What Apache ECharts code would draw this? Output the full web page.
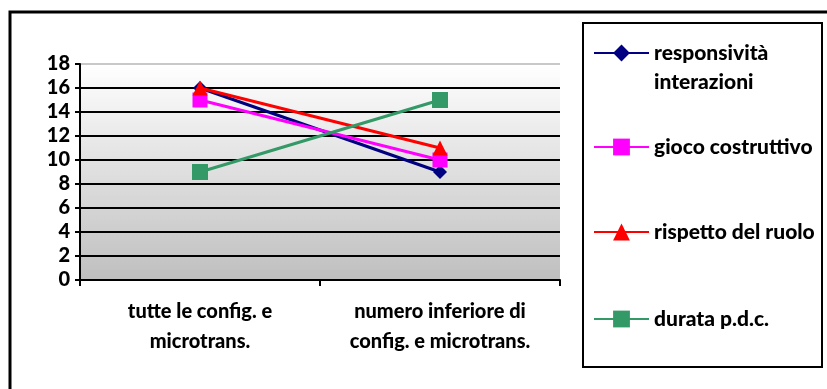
<!DOCTYPE html>
<html>
<head>
<meta charset="utf-8">
<script src="https://cdn.jsdelivr.net/npm/echarts@6/dist/echarts.min.js"></script>
<style>
  html, body { margin: 0; padding: 0; background: #fff; }
  #chart { width: 827px; height: 389px; }
</style>
</head>
<body>
<div id="chart"></div>
<script>
// Categories and values per series
const categories = ['tutte le config. e\nmicrotrans.', 'numero inferiore di\nconfig. e microtrans.'];
const seriesNames = ['responsività interazioni', 'gioco costruttivo', 'rispetto del ruolo', 'durata p.d.c.'];
const responsivita = [16, 9];
const giocoCostruttivo = [15, 10];
const rispettoRuolo = [16, 11];
const durataPdc = [9, 15];
const yTicks = [0, 2, 4, 6, 8, 10, 12, 14, 16, 18];

const FONT = 'Lato, "Open Sans", sans-serif';
const WEIGHT = 900;
const seriesStyles = [
  { color: '#000080', symbol: 'diamond', size: 14 },
  { color: '#ff00ff', symbol: 'rect', size: 15 },
  { color: '#ff0000', symbol: 'triangle', size: 15 },
  { color: '#339966', symbol: 'rect', size: 16 }
];
const seriesData = [responsivita, giocoCostruttivo, rispettoRuolo, durataPdc];

const chart = echarts.init(document.getElementById('chart'), null, { renderer: 'canvas' });

// One legend block per entry so each row sits at its own height
const legendRows = [
  { name: seriesNames[0], center: 53, twoLine: true },
  { name: seriesNames[1], center: 143 },
  { name: seriesNames[2], center: 228 },
  { name: seriesNames[3], center: 315 }
];
const LINE_H = 29;
const ITEM_H = 21;

// The wrapped entry gets an empty leading line so its first line sits beside the icon
const legends = legendRows.map(r => ({
  data: [r.name],
  left: 593,
  top: r.twoLine ? r.center - 1.5 * LINE_H : r.center - ITEM_H / 2,
  padding: 0,
  itemWidth: 55,
  itemHeight: ITEM_H,
  itemGap: 0,
  itemStyle: { borderWidth: 0 },
  lineStyle: { width: 2 },
  selectedMode: false,
  formatter: n => n === seriesNames[0] ? ' \nresponsività\ninterazioni' : n,
  textStyle: {
    fontFamily: FONT,
    fontWeight: WEIGHT,
    fontSize: 21,
    color: '#000',
    lineHeight: LINE_H
  }
}));

const splitColors = yTicks.map(v => v === 18 ? '#c8c8c8' : '#000');

chart.setOption({
  animation: false,
  backgroundColor: '#fff',
  graphic: [
    { type: 'rect', shape: { x: 10, y: 12, width: 840, height: 420 },
      style: { fill: 'none', stroke: '#000', lineWidth: 3 }, z: 100 },
    { type: 'rect', shape: { x: 583, y: 23, width: 239, height: 344 },
      style: { fill: 'none', stroke: '#000', lineWidth: 2 }, z: 100 }
  ],
  legend: legends,
  grid: {
    left: 80, right: 267, top: 64, bottom: 109,
    show: true, borderWidth: 0,
    backgroundColor: new echarts.graphic.LinearGradient(0, 0, 0, 1, [
      { offset: 0, color: '#ffffff' },
      { offset: 1, color: '#bfbfbf' }
    ])
  },
  xAxis: {
    type: 'category',
    data: categories,
    boundaryGap: true,
    axisLine: { lineStyle: { color: '#000', width: 2 } },
    axisTick: { show: true, length: 6, lineStyle: { color: '#000', width: 2 } },
    axisLabel: {
      margin: 17, color: '#000', fontFamily: FONT, fontWeight: WEIGHT,
      fontSize: 20, lineHeight: 30, interval: 0
    },
    splitLine: { show: false }
  },
  yAxis: {
    type: 'value',
    min: 0, max: 18, interval: 2,
    axisLine: { show: true, lineStyle: { color: '#000', width: 2 } },
    axisTick: { show: true, length: 5, lineStyle: { color: '#000', width: 2 } },
    axisLabel: { margin: 10, color: '#000', fontFamily: FONT, fontWeight: WEIGHT, fontSize: 20 },
    splitLine: { show: true, lineStyle: { color: splitColors, width: 2 } }
  },
  series: seriesNames.map((name, i) => ({
    name,
    type: 'line',
    data: seriesData[i],
    symbol: seriesStyles[i].symbol,
    symbolSize: seriesStyles[i].size,
    showAllSymbol: true,
    color: seriesStyles[i].color,
    lineStyle: { color: seriesStyles[i].color, width: 3 },
    itemStyle: { color: seriesStyles[i].color, opacity: 1 },
    z: 3 + i
  }))
});
</script>
</body>
</html>
